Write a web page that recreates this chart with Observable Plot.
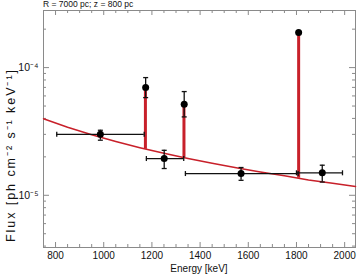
<!DOCTYPE html>
<html><head><meta charset="utf-8">
<script src="https://cdn.jsdelivr.net/npm/d3@7"></script>
<script src="https://cdn.jsdelivr.net/npm/@observablehq/plot@0.6"></script>
<style>body{margin:0;background:#fff} svg{font-family:"Liberation Sans",Arial,Helvetica,sans-serif}</style>
</head><body><div id="chart"></div>
<script>
const title = "R = 7000 pc; z = 800 pc";
const xLabel = "Energy [keV]";
const yLabel = "Flux [ph cm⁻² s⁻¹ keV⁻¹]";
const xTickValues = [800, 1000, 1200, 1400, 1600, 1800, 2000];
const xMinorTicks = [750, 850, 900, 950, 1050, 1100, 1150, 1250, 1300, 1350, 1450, 1500, 1550, 1650, 1700, 1750, 1850, 1900, 1950];
const yTickValues = [1e-5, 1e-4];
const yTickLabels = ["10⁻⁵", "10⁻⁴"];
const yMinorTicks = [4e-6, 5e-6, 6e-6, 7e-6, 8e-6, 9e-6, 2e-5, 3e-5, 4e-5, 5e-5, 6e-5, 7e-5, 8e-5, 9e-5, 2e-4];

// measured data points
const pointEnergy = [986, 1174, 1251, 1334, 1570, 1809, 1907];
const pointFlux = [3.0e-5, 6.97e-5, 1.94e-5, 5.17e-5, 1.48e-5, 1.88e-4, 1.50e-5];
const pointFluxLo = [2.70e-5, 5.82e-5, 1.62e-5, 4.11e-5, 1.31e-5, null, 1.27e-5];
const pointFluxHi = [3.23e-5, 8.35e-5, 2.25e-5, 6.49e-5, 1.65e-5, null, 1.72e-5];
const pointEnergyLo = [805, null, 1177, null, 1339, null, 1800];
const pointEnergyHi = [1168, null, 1332, null, 1807, null, 1991];

// model continuum
const modelEnergy = [750, 850, 950, 1050, 1150, 1250, 1350, 1450, 1550, 1650, 1750, 1850, 1950, 2045];
const modelFlux = [3.97e-5, 3.41e-5, 2.98e-5, 2.64e-5, 2.36e-5, 2.13e-5, 1.94e-5, 1.78e-5, 1.64e-5, 1.52e-5, 1.42e-5, 1.32e-5, 1.24e-5, 1.17e-5];

// model lines
const lineEnergy = [1173, 1333, 1809];
const lineBase = [2.29e-5, 1.97e-5, 1.36e-5];
const linePeak = [6.6e-5, 5.2e-5, 1.88e-4];

const points = pointEnergy.map((e, i) => ({e, f: pointFlux[i], flo: pointFluxLo[i], fhi: pointFluxHi[i], elo: pointEnergyLo[i], ehi: pointEnergyHi[i]}));
const xErr = points.filter(d => d.elo != null);
const yErr = points.filter(d => d.flo != null);
const model = modelEnergy.map((e, i) => ({e, f: modelFlux[i]}));
const lines = lineEnergy.map((e, i) => ({e, b: lineBase[i], p: linePeak[i]}));

const W = 357, H = 276, mL = 43, mR = 2, mT = 10, mB = 29;
const iW = W - mL - mR, iH = H - mT - mB;
const axisColor = "#8a8a8a";
const red = "#c8202a";
const capH = {draw(ctx) { ctx.moveTo(-2.5, 0); ctx.lineTo(2.5, 0); }};
const capV = {draw(ctx) { ctx.moveTo(0, -2.5); ctx.lineTo(0, 2.5); }};

const chart = Plot.plot({
  width: W, height: H,
  marginLeft: mL, marginRight: mR, marginTop: mT, marginBottom: mB,
  style: {fontFamily: '"Liberation Sans", Arial, sans-serif', background: "#fff", overflow: "visible"},
  x: {domain: [750, 2045], label: null},
  y: {type: "log", domain: [3.9e-6, 2.8e-4], label: null},
  marks: [
    // ticks (inward, mirrored)
    Plot.tickX(xTickValues, {x: d => d, insetTop: iH - 5, stroke: axisColor}),
    Plot.tickX(xTickValues, {x: d => d, insetBottom: iH - 5, stroke: axisColor}),
    Plot.tickX(xMinorTicks, {x: d => d, insetTop: iH - 3, stroke: axisColor}),
    Plot.tickX(xMinorTicks, {x: d => d, insetBottom: iH - 3, stroke: axisColor}),
    Plot.tickY(yTickValues, {y: d => d, insetRight: iW - 6, stroke: axisColor}),
    Plot.tickY(yTickValues, {y: d => d, insetLeft: iW - 6, stroke: axisColor}),
    Plot.tickY(yMinorTicks, {y: d => d, insetRight: iW - 3, stroke: axisColor}),
    Plot.tickY(yMinorTicks, {y: d => d, insetLeft: iW - 3, stroke: axisColor}),
    Plot.frame({stroke: axisColor}),
    Plot.axisX(xTickValues, {tickSize: 0, tickPadding: 4, fontSize: 10, tickFormat: d => String(d), fill: "#111"}),
    Plot.axisY(yTickValues, {tickSize: 0, tickPadding: 5, fontSize: 10.5, tickFormat: d => yTickLabels[yTickValues.indexOf(d)], fill: "#111"}),
    // model
    Plot.line(model, {x: "e", y: "f", stroke: red, strokeWidth: 1.5}),
    Plot.ruleX(lines, {x: "e", y1: "b", y2: "p", stroke: red, strokeWidth: 3}),
    // data
    Plot.ruleY(xErr, {y: "f", x1: "elo", x2: "ehi", stroke: "#111", strokeWidth: 1.3}),
    Plot.ruleX(yErr, {x: "e", y1: "flo", y2: "fhi", stroke: "#111", strokeWidth: 1.3}),
    Plot.dot(xErr, {x: "elo", y: "f", symbol: capV, fill: "none", stroke: "#111", strokeWidth: 1.3}),
    Plot.dot(xErr, {x: "ehi", y: "f", symbol: capV, fill: "none", stroke: "#111", strokeWidth: 1.3}),
    Plot.dot(yErr, {x: "e", y: "flo", symbol: capH, fill: "none", stroke: "#111", strokeWidth: 1.3}),
    Plot.dot(yErr, {x: "e", y: "fhi", symbol: capH, fill: "none", stroke: "#111", strokeWidth: 1.3}),
    Plot.dot(points, {x: "e", y: "f", r: 3.5, fill: "#000", stroke: "none"})
  ]
});
const svg = d3.select(chart);
// title, x label and y label in the margins
svg.append("text")
  .attr("x", mL).attr("y", 7)
  .attr("text-anchor", "start")
  .attr("font-size", 8.5).attr("fill", "#111")
  .text(title);
svg.append("text")
  .attr("x", mL + iW / 2).attr("y", 271.5)
  .attr("text-anchor", "middle")
  .attr("font-size", 10).attr("fill", "#111")
  .text(xLabel);
svg.append("text")
  .attr("transform", "translate(15,156) rotate(-90)")
  .attr("text-anchor", "middle")
  .attr("font-size", 12.5)
  .attr("fill", "#111")
  .attr("textLength", 172)
  .attr("lengthAdjust", "spacing")
  .text(yLabel);
document.getElementById("chart").appendChild(chart);
</script>
</body></html>
